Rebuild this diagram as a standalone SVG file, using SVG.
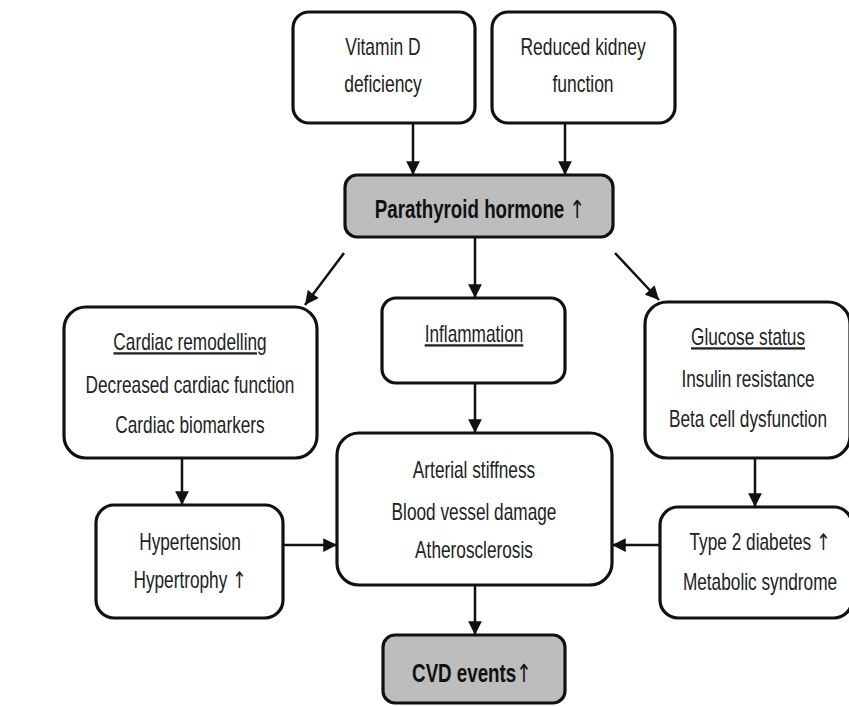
<svg xmlns="http://www.w3.org/2000/svg" width="849" height="706" viewBox="0 0 849 706">
<defs>
<style>
.box{fill:#fff;stroke:#111;stroke-width:3.2}
.gray{fill:#bdbdbd;stroke:#111;stroke-width:3.2}
.t{font-family:"Liberation Sans",Arial,sans-serif;font-size:23px;fill:#222;text-anchor:middle}
.b{font-weight:bold;font-size:25px;fill:#111}
.u{text-decoration:underline}
.ar{font-family:"DejaVu Sans",sans-serif;font-weight:normal}
.c{stroke:#111;stroke-width:2.5;fill:none;marker-end:url(#ah)}
</style>
<marker id="ah" viewBox="0 0 10 10" refX="10" refY="5" markerWidth="5.5" markerHeight="5.5" orient="auto" markerUnits="strokeWidth">
<path d="M0,0 L10,5 L0,10 z" fill="#111"/>
</marker>
</defs>
<rect width="849" height="706" fill="#fff"/>
<g id="connectors">
<line class="c" x1="413" y1="123" x2="413" y2="175"/>
<line class="c" x1="565" y1="123" x2="565" y2="175"/>
<line class="c" x1="344" y1="253" x2="305" y2="305"/>
<line class="c" x1="475" y1="237" x2="475" y2="298"/>
<line class="c" x1="615" y1="253" x2="659" y2="300"/>
<line class="c" x1="475" y1="383" x2="475" y2="433"/>
<line class="c" x1="182" y1="458" x2="182" y2="505"/>
<line class="c" x1="755" y1="458" x2="755" y2="507"/>
<line class="c" x1="283" y1="545" x2="337" y2="545"/>
<line class="c" x1="660" y1="545" x2="612" y2="545"/>
<line class="c" x1="475" y1="585" x2="475" y2="635"/>
</g>
<g id="vitd">
<rect class="box" x="293" y="12" width="182" height="111" rx="16"/>
<text class="t" transform="translate(383,55) scale(0.76,1)">Vitamin D</text>
<text class="t" transform="translate(383,92) scale(0.76,1)">deficiency</text>
</g>
<g id="kidney">
<rect class="box" x="492" y="12" width="183" height="111" rx="16"/>
<text class="t" transform="translate(583,55) scale(0.76,1)">Reduced kidney</text>
<text class="t" transform="translate(583,92) scale(0.76,1)">function</text>
</g>
<g id="pth">
<rect class="gray" x="345" y="175" width="268" height="62" rx="12"/>
<text class="t b" transform="translate(480,218) scale(0.75,1)">Parathyroid hormone <tspan class="ar">↑</tspan></text>
</g>
<g id="cardiac">
<rect class="box" x="64" y="307" width="253" height="151" rx="22"/>
<text class="t u" transform="translate(190,350) scale(0.75,1)">Cardiac remodelling</text>
<text class="t" transform="translate(190,393) scale(0.75,1)">Decreased cardiac function</text>
<text class="t" transform="translate(190,433) scale(0.75,1)">Cardiac biomarkers</text>
</g>
<g id="inflammation">
<rect class="box" x="382" y="298" width="183" height="85" rx="14"/>
<text class="t u" transform="translate(474,342) scale(0.75,1)">Inflammation</text>
</g>
<g id="glucose">
<rect class="box" x="645" y="302" width="205" height="156" rx="22"/>
<text class="t u" transform="translate(748,345) scale(0.75,1)">Glucose status</text>
<text class="t" transform="translate(748,387) scale(0.75,1)">Insulin resistance</text>
<text class="t" transform="translate(748,427) scale(0.75,1)">Beta cell dysfunction</text>
</g>
<g id="arterial">
<rect class="box" x="337" y="433" width="275" height="152" rx="22"/>
<text class="t" transform="translate(474,478) scale(0.75,1)">Arterial stiffness</text>
<text class="t" transform="translate(474,520) scale(0.75,1)">Blood vessel damage</text>
<text class="t" transform="translate(474,558) scale(0.75,1)">Atherosclerosis</text>
</g>
<g id="hypertension">
<rect class="box" x="96" y="505" width="187" height="113" rx="18"/>
<text class="t" transform="translate(190,550) scale(0.75,1)">Hypertension</text>
<text class="t" transform="translate(190,588) scale(0.75,1)">Hypertrophy <tspan class="ar">↑</tspan></text>
</g>
<g id="diabetes">
<rect class="box" x="660" y="507" width="192" height="111" rx="18"/>
<text class="t" transform="translate(760,550) scale(0.75,1)">Type 2 diabetes <tspan class="ar">↑</tspan></text>
<text class="t" transform="translate(760,590) scale(0.75,1)">Metabolic syndrome</text>
</g>
<g id="cvd">
<rect class="gray" x="383" y="635" width="182" height="68" rx="12"/>
<text class="t b" transform="translate(472,682) scale(0.75,1)">CVD events<tspan class="ar">↑</tspan></text>
</g>
</svg>
